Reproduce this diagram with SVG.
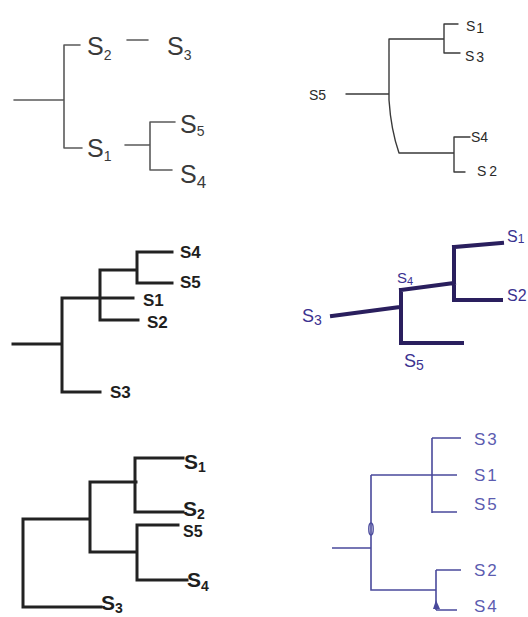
<svg xmlns="http://www.w3.org/2000/svg" width="528" height="617" viewBox="0 0 528 617">
<style>
.l1{fill:none;stroke:#5a5a5a;stroke-width:1.6;stroke-linecap:round;stroke-linejoin:round}
.l2{fill:none;stroke:#3a3a3a;stroke-width:1.4;stroke-linecap:round;stroke-linejoin:round}
.l3{fill:none;stroke:#222;stroke-width:3;stroke-linecap:square;stroke-linejoin:miter}
.l4{fill:none;stroke:#2a1f5e;stroke-width:4;stroke-linecap:square;stroke-linejoin:miter}
.l6{fill:none;stroke:#4a4a9c;stroke-width:1.6;stroke-linecap:butt;stroke-linejoin:miter}
text{font-family:"Liberation Sans","DejaVu Sans",sans-serif}
.t1{fill:#3a3a3a;font-size:25px}
.t2{fill:#2a2a2a;font-size:14px}
.t3{fill:#1e1e1e;font-size:17px;font-weight:bold}
.t4{fill:#3b3290;font-size:18px}
.t5{fill:#1e1e1e;font-size:21px;font-weight:bold}
.t6{fill:#5c5cb0;font-size:17px;letter-spacing:2px}
.sub{font-size:14px}
</style>
<rect width="528" height="617" fill="#ffffff"/>

<g id="connectors">
  <g id="tree1">
    <path class="l1" d="M14,100 H63 M64,45 V148 M64,45 H80 M64,148 H82 M127,40 H148 M125,145 H149 M150,122 V170 M150,122 H175 M150,170 H172"/>
  </g>
  <g id="tree2">
    <path class="l2" d="M346,94 H389 M389,39 V100 Q391,130 399,153 M389,39 H444 M444,24 V53 M444,24 H458 M444,53 H460 M399,153 H454 M454,137 V172 M454,137 H470 M454,172 H465"/>
  </g>
  <g id="tree3">
    <path class="l3" d="M13,344 H61 M62,298 V392 H100 M62,298 H133 M100,270 V320 H138 M100,270 H137 M137,252 V283 M137,252 H172 M137,283 H172"/>
  </g>
  <g id="tree4">
    <path class="l4" d="M332,316 L400,307 M401,290 V343 H462 M401,290 L454,283 M454,247 V300 H501 M454,247 L502,243"/>
  </g>
  <g id="tree5">
    <path class="l3" d="M23,519 V607 H101 M23,519 H89 M90,482 V552 H137 M90,482 H136 M135,458 V512 H183 M135,458 H183 M137,525 V580 H187 M137,525 H178"/>
  </g>
  <g id="tree6">
    <path class="l6" d="M332,548 H371 M371,475 V590 H436 M371,475 H432 M432,438 V513 M432,438 H461 M432,475 H457 M432,512 H457 M436,570 V610 M436,570 H461 M436,610 H457"/>
    <ellipse cx="371" cy="529" rx="2.2" ry="6" fill="none" stroke="#4a4a9c" stroke-width="1.4"/>
    <path d="M433,609 L436,600 L440,609 Z" fill="#4a4a9c"/>
  </g>
</g>

<g id="n1-S2"><text class="t1" x="87" y="55">S<tspan class="sub" dy="5">2</tspan></text></g>
<g id="n1-S3"><text class="t1" x="167" y="55">S<tspan class="sub" dy="5">3</tspan></text></g>
<g id="n1-S1"><text class="t1" x="87" y="157">S<tspan class="sub" dy="4">1</tspan></text></g>
<g id="n1-S5"><text class="t1" x="180" y="133">S<tspan class="sub" dy="3">5</tspan></text></g>
<g id="n1-S4"><text class="t1" x="180" y="183">S<tspan class="sub" dy="5" style="font-size:17px">4</tspan></text></g>

<g id="n2-S5"><text class="t2" x="309" y="100">S5</text></g>
<g id="n2-S1"><text class="t2" x="466" y="31">S<tspan dx="1" dy="2">1</tspan></text></g>
<g id="n2-S3"><text class="t2" x="465" y="61">S<tspan dx="2" dy="1">3</tspan></text></g>
<g id="n2-S4"><text class="t2" x="471" y="142">S4</text></g>
<g id="n2-S2"><text class="t2" x="477" y="176">S<tspan dx="3">2</tspan></text></g>

<g id="n3-S4"><text class="t3" x="180" y="258">S4</text></g>
<g id="n3-S5"><text class="t3" x="180" y="288">S5</text></g>
<g id="n3-S1"><text class="t3" x="143" y="306">S1</text></g>
<g id="n3-S2"><text class="t3" x="147" y="328">S2</text></g>
<g id="n3-S3"><text class="t3" x="110" y="398">S3</text></g>

<g id="n4-S3"><text class="t4" x="302" y="322">S<tspan class="sub" dy="3">3</tspan></text></g>
<g id="n4-S4"><text class="t4" x="397" y="283" style="font-size:15px">S<tspan style="font-size:11px" dy="2">4</tspan></text></g>
<g id="n4-S5"><text class="t4" x="404" y="367">S<tspan class="sub" dy="3">5</tspan></text></g>
<g id="n4-S1"><text class="t4" x="507" y="242" style="font-size:16px">S<tspan style="font-size:12px" dy="1">1</tspan></text></g>
<g id="n4-S2"><text class="t4" x="507" y="301" style="font-size:16px">S2</text></g>

<g id="n5-S1"><text class="t5" x="184" y="469">S<tspan class="sub" dy="3">1</tspan></text></g>
<g id="n5-S2"><text class="t5" x="183" y="516">S<tspan class="sub" dy="3">2</tspan></text></g>
<g id="n5-S5"><text class="t5" x="183" y="537" style="font-size:16px">S5</text></g>
<g id="n5-S4"><text class="t5" x="187" y="587">S<tspan class="sub" dy="4">4</tspan></text></g>
<g id="n5-S3"><text class="t5" x="101" y="610">S<tspan class="sub" dy="3">3</tspan></text></g>

<g id="n6-S3"><text class="t6" x="474" y="445">S3</text></g>
<g id="n6-S1"><text class="t6" x="474" y="481">S1</text></g>
<g id="n6-S5"><text class="t6" x="474" y="510">S5</text></g>
<g id="n6-S2"><text class="t6" x="474" y="576">S2</text></g>
<g id="n6-S4"><text class="t6" x="474" y="612">S4</text></g>
</svg>
